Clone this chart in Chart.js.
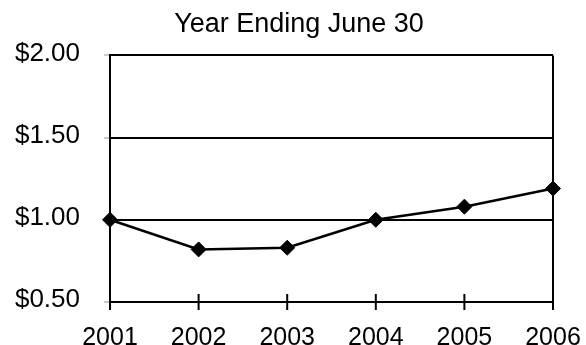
<!DOCTYPE html>
<html>
<head>
<meta charset="utf-8">
<script src="https://cdn.jsdelivr.net/npm/chart.js@4/dist/chart.umd.min.js"></script>
<style>
  html, body { margin: 0; padding: 0; background: #fff; }
  #wrap { width: 586px; height: 345px; }
</style>
</head>
<body>
<div id="wrap"><canvas id="c" width="586" height="345"></canvas></div>
<script>
const titleText = 'Year Ending June 30';
const categories = ['2001', '2002', '2003', '2004', '2005', '2006'];
const values = [1.00, 0.82, 0.83, 1.00, 1.08, 1.19];
const yTickValues = [0.5, 1.0, 1.5, 2.0];

const FONT = "'Liberation Sans', Arial, sans-serif";
Chart.defaults.color = '#000';
Chart.defaults.font.family = FONT;

// short tick marks crossing the x axis, placed at the x scale's own tick pixels
const crossTicks = {
  id: 'crossTicks',
  afterDraw(chart) {
    const x = chart.scales.x;
    const ctx = chart.ctx;
    const bottom = chart.chartArea.bottom;
    ctx.save();
    ctx.strokeStyle = '#000';
    ctx.lineWidth = 2;
    for (let i = 0; i < categories.length; i++) {
      const px = x.getPixelForTick(i);
      ctx.beginPath();
      ctx.moveTo(px, (i === 0 || i === categories.length - 1) ? bottom : bottom - 8);
      ctx.lineTo(px, bottom + 8);
      ctx.stroke();
    }
    ctx.restore();
  }
};

new Chart(document.getElementById('c'), {
  type: 'line',
  data: {
    labels: categories,
    datasets: [{
      data: values,
      borderColor: '#000',
      borderWidth: 2.5,
      tension: 0,
      pointStyle: 'rectRot',
      pointRadius: 7.5,
      pointBackgroundColor: '#000',
      pointBorderColor: '#000',
      pointBorderWidth: 1,
      clip: false
    }]
  },
  options: {
    responsive: false,
    animation: false,
    devicePixelRatio: 1,
    layout: { padding: { left: 12, right: 0, top: 0, bottom: 0 } },
    plugins: {
      legend: { display: false },
      tooltip: { enabled: false },
      title: {
        display: true,
        text: titleText,
        color: '#000',
        font: { family: FONT, size: 27, weight: 'normal' },
        padding: { top: 8, bottom: 15 }
      }
    },
    scales: {
      x: {
        offset: false,
        afterFit: (s) => { s.paddingLeft = 0; s.paddingRight = 33; s.height = 43; },
        grid: {
          color: (c) => (c.index === 0 || c.index === categories.length - 1) ? '#000' : 'rgba(0,0,0,0)',
          lineWidth: 2,
          tickColor: 'rgba(0,0,0,0)',
          tickWidth: 2,
          tickLength: 21
        },
        border: { display: true, color: '#000', width: 2 },
        ticks: {
          color: '#000',
          font: { family: FONT, size: 25 },
          padding: 0,
          maxRotation: 0,
          autoSkip: false
        }
      },
      y: {
        min: 0.5,
        max: 2.0,
        afterBuildTicks: (s) => { s.ticks = yTickValues.map(v => ({ value: v })); },
        afterFit: (s) => { s.width = 98; },
        grid: {
          color: '#000',
          lineWidth: 2,
          tickColor: '#999',
          tickWidth: 1,
          tickLength: 6
        },
        border: { display: true, color: '#000', width: 2 },
        ticks: {
          color: '#000',
          font: { family: FONT, size: 26 },
          padding: 24,
          labelOffset: -2,
          callback: (v) => '$' + Number(v).toFixed(2)
        }
      }
    }
  },
  plugins: [crossTicks]
});
</script>
</body>
</html>
